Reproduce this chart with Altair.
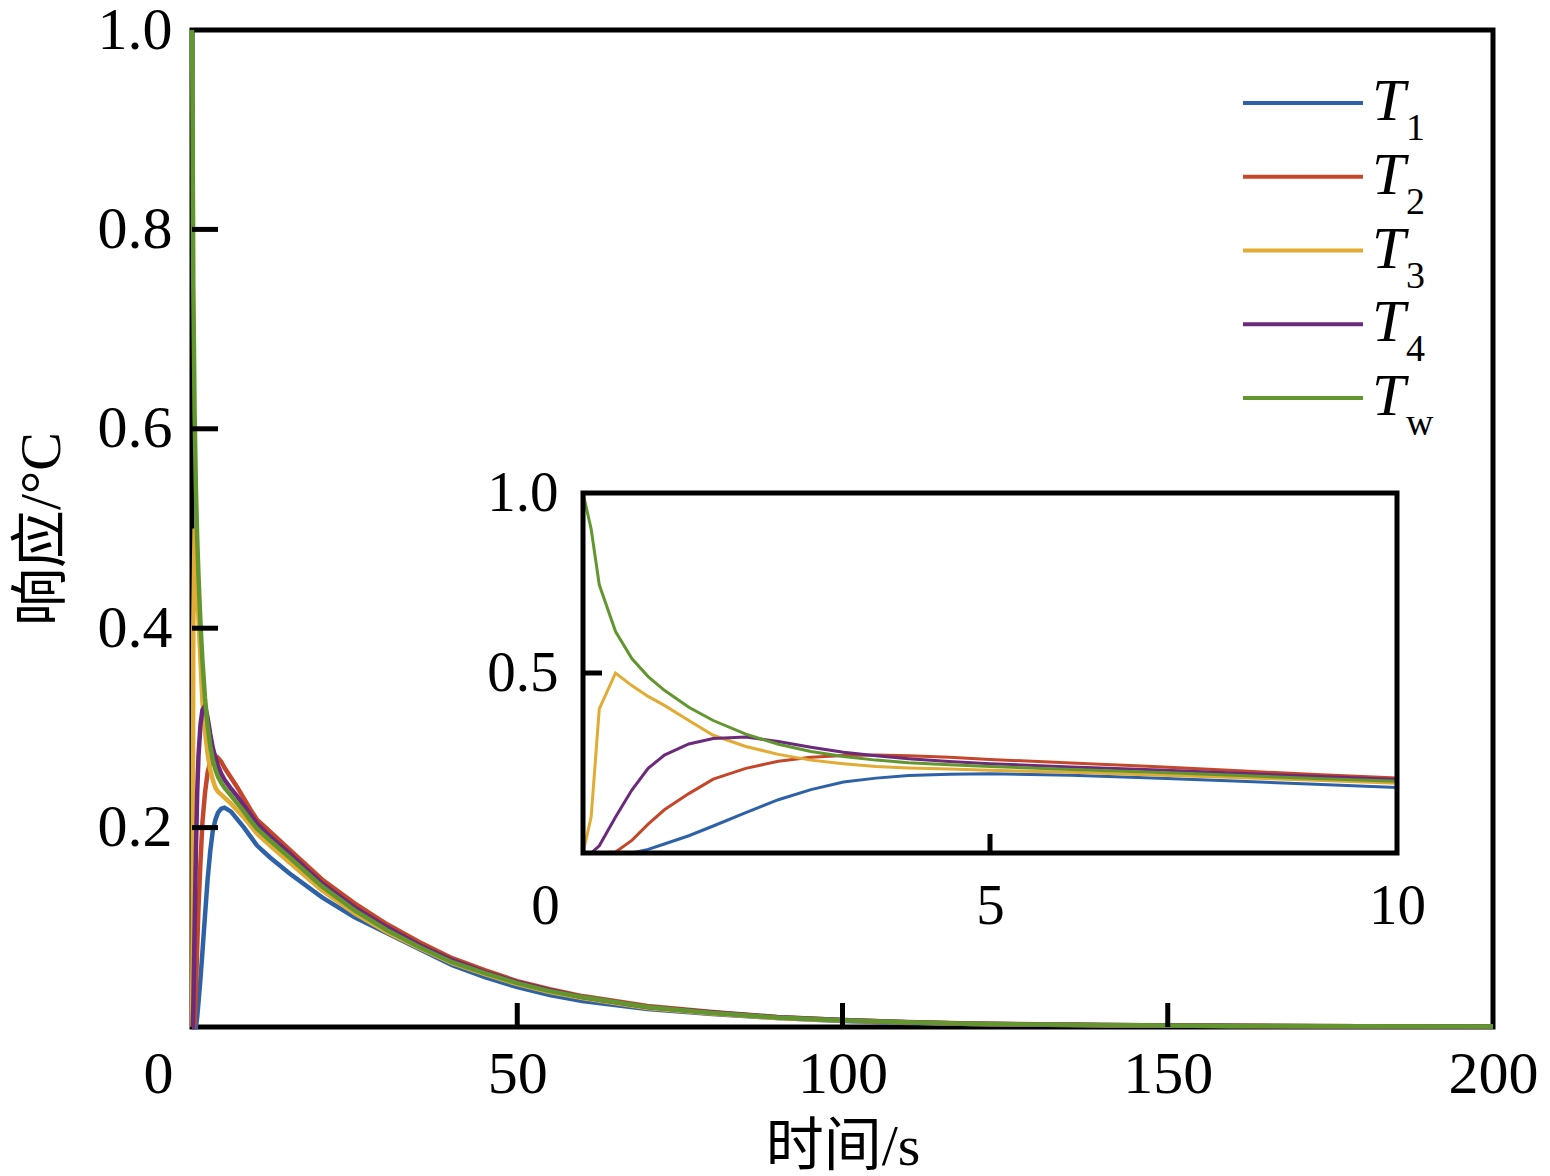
import altair as alt
import pandas as pd

# ---------------- data ----------------
time_s = [0, 0.1, 0.2, 0.4, 0.6, 0.8, 1.0, 1.3, 1.6, 2.0, 2.4, 2.8, 3.2, 3.6, 4.0,
          4.5, 5, 6, 7, 8, 9, 10, 12, 15, 20, 25, 30, 35, 40, 45, 50,
          55, 60, 70, 80, 90, 100, 110, 120, 140, 160, 180, 200]

T1 = [0, 0, 0, 0, 0, 0.01, 0.025, 0.048, 0.075, 0.112, 0.148, 0.176, 0.197, 0.208, 0.215,
      0.219, 0.22, 0.216, 0.208, 0.2, 0.191, 0.182, 0.17, 0.154, 0.13, 0.11, 0.094, 0.078, 0.062, 0.05, 0.04,
      0.032, 0.026, 0.018, 0.013, 0.009, 0.006, 0.004, 0.003, 0.0018, 0.001, 0.0006, 0.0004]

T2 = [0, 0, 0, 0.003, 0.035, 0.08, 0.12, 0.165, 0.205, 0.235, 0.255, 0.266, 0.271, 0.272, 0.27,
      0.266, 0.26, 0.25, 0.24, 0.229, 0.218, 0.208, 0.196, 0.178, 0.148, 0.124, 0.103, 0.085, 0.069, 0.057, 0.046,
      0.038, 0.031, 0.021, 0.015, 0.01, 0.007, 0.005, 0.0035, 0.002, 0.0012, 0.0008, 0.0005]

T3 = [0, 0.1, 0.40, 0.5, 0.465, 0.435, 0.41, 0.368, 0.327, 0.296, 0.274, 0.258, 0.248, 0.24, 0.236,
      0.233, 0.23, 0.224, 0.217, 0.21, 0.202, 0.194, 0.182, 0.165, 0.137, 0.114, 0.095, 0.079, 0.064, 0.053, 0.043,
      0.035, 0.029, 0.019, 0.0135, 0.009, 0.0065, 0.0045, 0.003, 0.0018, 0.0011, 0.0007, 0.0005]

T4 = [0, 0, 0.02, 0.1, 0.175, 0.235, 0.272, 0.303, 0.318, 0.322, 0.31, 0.294, 0.28, 0.27, 0.262,
      0.254, 0.248, 0.239, 0.231, 0.222, 0.213, 0.204, 0.191, 0.174, 0.144, 0.12, 0.1, 0.082, 0.067, 0.055, 0.045,
      0.037, 0.03, 0.02, 0.0145, 0.0098, 0.007, 0.0048, 0.0033, 0.0019, 0.0012, 0.0008, 0.0005]

Tw = [1.0, 0.9, 0.745, 0.615, 0.54, 0.49, 0.452, 0.405, 0.368, 0.33, 0.302, 0.282, 0.268, 0.258, 0.251,
      0.245, 0.24, 0.232, 0.224, 0.216, 0.207, 0.199, 0.187, 0.17, 0.141, 0.117, 0.097, 0.08, 0.065, 0.054, 0.044,
      0.036, 0.03, 0.02, 0.014, 0.0095, 0.0068, 0.0047, 0.0032, 0.0019, 0.0011, 0.0007, 0.0005]

series_names = ["T1", "T2", "T3", "T4", "Tw"]
series_subs = ["1", "2", "3", "4", "w"]
series_colors = ["#2e62a8", "#c4472a", "#e2ab33", "#6c2a7c", "#62962f"]

main_x_ticks = [50, 100, 150]
main_y_ticks = [0.2, 0.4, 0.6, 0.8]
main_x_labels = [0, 50, 100, 150, 200]
main_y_labels = [0.2, 0.4, 0.6, 0.8, 1.0]
inset_x_ticks = [5]
inset_y_ticks = [0.5]
inset_x_labels = [0, 5, 10]
inset_y_labels = [0.5, 1.0]

# ---------------- tables ----------------
rows = []
for name, vals in zip(series_names, [T1, T2, T3, T4, Tw]):
    for t, v in zip(time_s, vals):
        rows.append({"t": t, "v": v, "series": name})
df = pd.DataFrame(rows)
inset_df = df[df["t"] <= 10]
legend_df = pd.DataFrame({"series": series_names, "sub": series_subs})

# ---------------- layout constants (pixels) ----------------
W, H = 1301, 997
SERIF = "Liberation Serif"
TITLE_FONT = "Liberation Serif, Noto Sans CJK SC"
INSET_X_RANGE = [391, 1205]
INSET_Y_RANGE = [823, 463]

color = alt.Color("series:N", scale=alt.Scale(domain=series_names, range=series_colors), legend=None)

# ---------------- main plot ----------------
main_lines = alt.Chart(df).mark_line(strokeWidth=4.5).encode(
    x=alt.X("t:Q", scale=alt.Scale(domain=[0, 200], nice=False),
            axis=alt.Axis(orient="bottom", values=main_x_labels, format="d", labelFontSize=60,
                          labelPadding=18, labelFlush=False, labelOverlap=False,
                          labelOffset={"condition": {"test": "datum.value === 0", "value": -34}, "value": 0},
                          title="时间/s", titleFont=TITLE_FONT, titleFontSize=58,
                          titleFontWeight="normal", titleX=W / 2, titleY=120,
                          titleAlign="center", titleBaseline="middle")),
    y=alt.Y("v:Q", scale=alt.Scale(domain=[0, 1], nice=False),
            axis=alt.Axis(orient="left", values=main_y_labels, format=".1f", labelFontSize=60,
                          labelPadding=20, labelFlush=False, labelOverlap=False,
                          title="响应/°C", titleFont=TITLE_FONT, titleFontSize=58,
                          titleFontWeight="normal", titleAngle=-90, titleX=-150, titleY=H / 2,
                          titleAlign="center", titleBaseline="middle")),
    color=color,
)

main_yticks = alt.Chart(pd.DataFrame({"v": main_y_ticks})).mark_rule(color="black", strokeWidth=5).encode(
    y="v:Q", x=alt.value(0), x2=alt.value(26))
main_xticks = alt.Chart(pd.DataFrame({"t": main_x_ticks})).mark_rule(color="black", strokeWidth=5).encode(
    x="t:Q", y=alt.value(H), y2=alt.value(H - 24))

main = alt.layer(main_lines, main_yticks, main_xticks)

# ---------------- inset ----------------
inset_lines = alt.Chart(inset_df).mark_line(strokeWidth=3).encode(
    x=alt.X("t:Q", scale=alt.Scale(domain=[0, 10], range=INSET_X_RANGE, nice=False, zero=False),
            axis=alt.Axis(orient="bottom", offset=-(H - INSET_Y_RANGE[0]), values=inset_x_labels,
                          format="d", labelFontSize=57, labelPadding=25, labelFlush=False,
                          labelOverlap=False,
                          labelOffset={"condition": {"test": "datum.value === 0", "value": -38}, "value": 0},
                          title=None)),
    y=alt.Y("v:Q", scale=alt.Scale(domain=[0, 1], range=INSET_Y_RANGE, nice=False),
            axis=alt.Axis(orient="left", offset=-INSET_X_RANGE[0], values=inset_y_labels, format=".1f",
                          labelFontSize=57, labelPadding=25, labelFlush=False, labelOverlap=False,
                          title=None)),
    color=color,
)

inset_frame = alt.Chart(pd.DataFrame({"a": [0]})).mark_rect(
    fillOpacity=0, stroke="black", strokeWidth=5).encode(
    x=alt.datum(0), x2=alt.datum(10), y=alt.datum(0), y2=alt.datum(1))

inset_yticks = alt.Chart(pd.DataFrame({"v": inset_y_ticks})).mark_rule(color="black", strokeWidth=5).encode(
    y="v:Q", x=alt.datum(0), x2=alt.value(INSET_X_RANGE[0] + 19))
inset_xticks = alt.Chart(pd.DataFrame({"t": inset_x_ticks})).mark_rule(color="black", strokeWidth=5).encode(
    x="t:Q", y=alt.datum(0), y2=alt.value(INSET_Y_RANGE[0] - 19))

inset = alt.layer(inset_lines, inset_frame, inset_yticks, inset_xticks)

# ---------------- legend (manual, for italic T with subscripts) ----------------
leg_y = alt.Y("series:O", scale=alt.Scale(type="point", domain=series_names, range=[73, 368], padding=0),
              axis=None)
legend_lines = alt.Chart(legend_df).mark_rule(strokeWidth=4).encode(
    y=leg_y, x=alt.value(1051), x2=alt.value(1171), color=color)
legend_T = alt.Chart(legend_df).mark_text(
    text="T", font=SERIF, fontStyle="italic", fontSize=60, align="left",
    baseline="alphabetic", dy=17, color="black").encode(y=leg_y, x=alt.value(1180))
legend_sub = alt.Chart(legend_df).mark_text(
    font=SERIF, fontSize=38, align="left", baseline="alphabetic", dy=37, color="black").encode(
    y=leg_y, x=alt.value(1214), text="sub:N")
legend = alt.layer(legend_lines, legend_T, legend_sub)

chart = alt.layer(main, inset, legend).resolve_scale(
    x="independent", y="independent", color="shared"
).properties(
    width=W, height=H,
    padding={"left": 184, "top": 22, "right": 49, "bottom": 149},
    autosize=alt.AutoSizeParams(type="none"),
).configure_view(
    stroke="black", strokeWidth=5
).configure_axis(
    domain=False, ticks=False, grid=False,
    labelFont=SERIF, labelColor="black", titleColor="black",
)

chart.save("out.html", embed_options={"renderer": "svg", "actions": False})
